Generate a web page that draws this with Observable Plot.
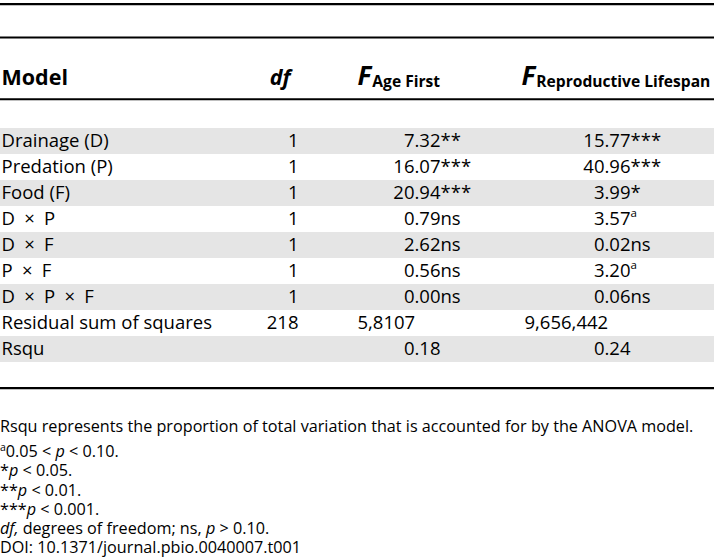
<!DOCTYPE html>
<html>
<head>
<meta charset="utf-8">
<script src="https://cdn.jsdelivr.net/npm/d3@7"></script>
<script src="https://cdn.jsdelivr.net/npm/@observablehq/plot@0.6"></script>
<style>
  html, body { margin: 0; padding: 0; background: #fff; overflow: hidden; }
  body { font-family: "Open Sans", sans-serif; color: #000; }
  #chart svg { display: block; }
  #notes { font-size: 16.2px; line-height: 19.3px; margin-top: 19px; }
  #notes p { margin: 0; white-space: nowrap; height: 19.3px; overflow: visible; }
  #notes p.first { margin-bottom: 5.7px; }
  #notes i { display: inline-block; line-height: 15px; }
  #notes sup { display: inline-block; font-size: 0.65em; line-height: 10px; vertical-align: 0.55em; }
</style>
</head>
<body>
<div id="chart"></div>
<div id="notes"></div>
<script>
// ---- Table content ----
const headers = ["Model", "df", "F|Age First", "F|Reproductive Lifespan"];
const terms = ["Drainage (D)", "Predation (P)", "Food (F)", "D\u2002\u00d7\u2002P", "D\u2002\u00d7\u2002F", "P\u2002\u00d7\u2002F", "D\u2002\u00d7\u2002P\u2002\u00d7\u2002F", "Residual sum of squares", "Rsqu"];
const dfValues = ["1", "1", "1", "1", "1", "1", "1", "218", ""];
const fAgeFirst = ["7.32**", "16.07***", "20.94***", "0.79ns", "2.62ns", "0.56ns", "0.00ns", "5,8107", "0.18"];
const fReproLifespan = ["15.77***", "40.96***", "3.99*", "3.57^a", "0.02ns", "3.20^a", "0.06ns", "9,656,442", "0.24"];
const footnotes = [
  "Rsqu represents the proportion of total variation that is accounted for by the ANOVA model.",
  "<sup>a</sup>0.05 &lt; <i>p</i> &lt; 0.10.",
  "*<i>p</i> &lt; 0.05.",
  "**<i>p</i> &lt; 0.01.",
  "***<i>p</i> &lt; 0.001.",
  "<i>df,</i> degrees of freedom; ns, <i>p</i> &gt; 0.10.",
  "DOI: 10.1371/journal.pbio.0040007.t001"
];

// ---- Layout ----
const W = 714, H = 398;
const ROW_TOP = 125, ROW_BOTTOM = 365;
const bw = (ROW_BOTTOM - ROW_TOP) / terms.length;
const center0 = ROW_TOP + bw / 2;           // pixel centre of the first band
const lineDy = (py) => py - center0;        // offset of a rule from the first band
const FONT = "Open Sans";
const BODY = 18.5;

// Split a value into integer part (left of the decimal point) and the rest
function splitValue(v) {
  const m = /^(\d+)(\.\d+)(.*)$/.exec(v);
  return m ? {int: m[1], frac: m[2] + m[3], plain: ""} : {int: "", frac: "", plain: v};
}

const rows = terms.map((term, i) => {
  const a = splitValue(fAgeFirst[i]);
  const b = splitValue(fReproLifespan[i]);
  return {
    term, i, df: dfValues[i],
    ageInt: a.int, ageFrac: a.frac, agePlain: a.plain,
    lifeInt: b.int, lifeFrac: b.frac, lifePlain: b.plain
  };
});

const bodyText = (text, opts) => Plot.text(rows, {
  y: "term", text, frameAnchor: "left", lineAnchor: "middle",
  fontSize: BODY, fill: "#000", ...opts
});
const headerText = (label, opts) => Plot.text([label], {
  text: d => d, frameAnchor: "top-left", lineAnchor: "bottom",
  dy: 84, fontSize: 21.5, fontWeight: "bold", fill: "#000", ...opts
});

const AGE_DOT = 414, LIFE_DOT = 604;

const plot = Plot.plot({
  width: W, height: H,
  margin: 0,
  style: {fontFamily: FONT, background: "#fff"},
  y: {domain: terms, range: [ROW_TOP, ROW_BOTTOM], padding: 0, axis: null},
  marks: [
    Plot.cell(rows.filter(d => d.i % 2 === 0), {y: "term", fill: "#e5e5e5"}),
    Plot.ruleY([terms[0]], {dy: lineDy(1.0), stroke: "#000", strokeWidth: 2.4}),
    Plot.ruleY([terms[0]], {dy: lineDy(34.3), stroke: "#000", strokeWidth: 2}),
    Plot.ruleY([terms[0]], {dy: lineDy(96), stroke: "#000", strokeWidth: 2}),
    Plot.ruleY([terms[0]], {dy: lineDy(385), stroke: "#000", strokeWidth: 2.2}),
    // header
    headerText(headers[0], {textAnchor: "start", dx: 1}),
    headerText(headers[1], {textAnchor: "end", dx: 290, fontStyle: "italic"}),
    headerText(headers[2], {textAnchor: "start", dx: 357}),
    headerText(headers[3], {textAnchor: "start", dx: 521}),
    // body
    bodyText("term", {textAnchor: "start", dx: 1}),
    bodyText("df", {textAnchor: "end", dx: 298}),
    bodyText("ageInt", {textAnchor: "end", dx: AGE_DOT}),
    bodyText("ageFrac", {textAnchor: "start", dx: AGE_DOT}),
    bodyText("agePlain", {textAnchor: "start", dx: 357}),
    bodyText("lifeInt", {textAnchor: "end", dx: LIFE_DOT}),
    bodyText("lifeFrac", {textAnchor: "start", dx: LIFE_DOT}),
    bodyText("lifePlain", {textAnchor: "start", dx: 524})
  ]
});

// rich text: subscripts in headers, superscript markers in values
d3.select(plot).selectAll("text").each(function () {
  const t = this.textContent;
  const sel = d3.select(this);
  if (t.includes("|")) {
    const [base, sub] = t.split("|");
    sel.text(null);
    sel.append("tspan").attr("font-size", 26).attr("font-style", "italic").text(base);
    sel.append("tspan").attr("font-size", 15.6).attr("dy", "0.15em").attr("dx", 1).text(sub);
  } else if (t.includes("^")) {
    const [base, sup] = t.split("^");
    sel.text(null);
    sel.append("tspan").text(base);
    sel.append("tspan").attr("font-size", 11.5).attr("dy", "-0.75em").text(sup);
  }
});

document.getElementById("chart").appendChild(plot);
document.getElementById("notes").innerHTML =
  footnotes.map((f, i) => `<p${i === 0 ? ' class="first"' : ""}>${f}</p>`).join("");
</script>
</body>
</html>
